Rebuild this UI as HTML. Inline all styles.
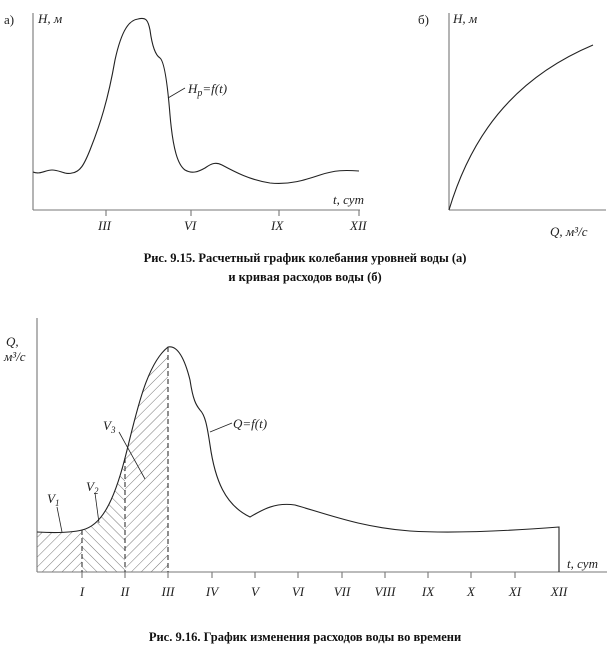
<!DOCTYPE html>
<html><head><meta charset="utf-8"><style>
body{margin:0;background:#fff}
svg{display:block}
.i{font-family:"Liberation Serif",serif;font-style:italic;font-size:13px;fill:#222}
.r{font-family:"Liberation Serif",serif;font-size:13px;fill:#222}
.c{font-family:"Liberation Serif",serif;font-weight:bold;font-size:12.5px;fill:#111}
</style></head><body>
<svg width="609" height="663" viewBox="0 0 609 663" xmlns="http://www.w3.org/2000/svg">
<defs>
<pattern id="pf" width="7" height="7" patternUnits="userSpaceOnUse" patternTransform="rotate(45)"><line x1="0" y1="0" x2="0" y2="7" stroke="#555" stroke-width="0.8"/></pattern>
<pattern id="pb" width="7" height="7" patternUnits="userSpaceOnUse" patternTransform="rotate(-45)"><line x1="0" y1="0" x2="0" y2="7" stroke="#555" stroke-width="0.8"/></pattern>
<clipPath id="area"><path d="M37,572 L37,532 C55,533 70,533 82,530 C100,526 113,505 125,458 C135,420 145,365 168,347 L168,572 Z"/></clipPath>
</defs>
<g fill="none" stroke="#222" stroke-width="1.1">
<line x1="33" y1="13" x2="33" y2="210" stroke="#777"/>
<line x1="33" y1="210" x2="360" y2="210" stroke="#777"/>
<line x1="106" y1="210" x2="106" y2="216" stroke="#777"/>
<line x1="191" y1="210" x2="191" y2="216" stroke="#777"/>
<line x1="279" y1="210" x2="279" y2="216" stroke="#777"/>
<line x1="359" y1="210" x2="359" y2="216" stroke="#777"/>
<path d="M33,172 C40,175 45,170 52,170 C60,170 65,175 72,173 C80,172 84,165 90,150 C100,125 108,100 115,60 C122,28 130,20 138,19 C146,17 148,20 150,30 C152,45 155,55 160,58 C165,62 168,90 170,115 C173,150 178,165 185,170 C192,174 198,172 205,168 C212,163 216,162 222,165 C235,172 250,180 270,183 C290,185 305,180 320,175 C335,170 345,170 359,171"/>
<line x1="168" y1="98" x2="185" y2="88" stroke-width="0.8"/>
<line x1="449" y1="13" x2="449" y2="210" stroke="#777"/>
<line x1="449" y1="210" x2="606" y2="210" stroke="#777"/>
<path d="M449,210 C470,140 510,80 593,45"/>
<g clip-path="url(#area)">
<rect x="37" y="330" width="45" height="242" fill="url(#pf)" stroke="none"/>
<rect x="82" y="330" width="43" height="242" fill="url(#pb)" stroke="none"/>
<rect x="125" y="330" width="43" height="242" fill="url(#pf)" stroke="none"/>
</g>
<line x1="37" y1="318" x2="37" y2="572" stroke="#777"/>
<line x1="37" y1="572" x2="607" y2="572" stroke="#777"/>
<g stroke="#777">
<line x1="82" y1="572" x2="82" y2="578"/><line x1="125" y1="572" x2="125" y2="578"/><line x1="168" y1="572" x2="168" y2="578"/>
<line x1="212" y1="572" x2="212" y2="578"/><line x1="255" y1="572" x2="255" y2="578"/><line x1="298" y1="572" x2="298" y2="578"/>
<line x1="342" y1="572" x2="342" y2="578"/><line x1="385" y1="572" x2="385" y2="578"/><line x1="428" y1="572" x2="428" y2="578"/>
<line x1="471" y1="572" x2="471" y2="578"/><line x1="515" y1="572" x2="515" y2="578"/>
</g>
<g stroke-dasharray="5,3" stroke="#333">
<line x1="82" y1="530" x2="82" y2="572"/><line x1="125" y1="458" x2="125" y2="572"/><line x1="168" y1="347" x2="168" y2="572"/>
</g>
<path d="M37,532 C55,533 70,533 82,530 C100,526 113,505 125,458 C135,420 145,365 168,347 C178,345 185,360 190,380 C193,400 196,405 200,410 C205,415 207,425 210,445 C215,480 225,505 250,517 C262,510 275,502 295,505 C330,515 360,527 410,531 C460,534 520,530 559,527 L559,572"/>
<g stroke-width="0.8">
<line x1="57" y1="507" x2="62" y2="532"/>
<line x1="95" y1="493" x2="99" y2="523"/>
<line x1="119" y1="432" x2="145" y2="479"/>
<line x1="232" y1="423" x2="210" y2="432"/>
</g>
</g>
<text class="r" x="4" y="24">а)</text>
<text class="i" x="38" y="23">H, м</text>
<text class="i" x="188" y="93">H<tspan font-size="10" dy="3">p</tspan><tspan dy="-3">=f(t)</tspan></text>
<text class="i" x="333" y="204">t, сут</text>
<text class="i" x="98" y="230">III</text>
<text class="i" x="184" y="230">VI</text>
<text class="i" x="271" y="230">IX</text>
<text class="i" x="350" y="230">XII</text>
<text class="r" x="418" y="24">б)</text>
<text class="i" x="453" y="23">H, м</text>
<text class="i" x="550" y="236">Q, м³/с</text>
<text class="c" x="305" y="262" text-anchor="middle">Рис. 9.15. Расчетный график колебания уровней воды (а)</text>
<text class="c" x="305" y="281" text-anchor="middle">и кривая расходов воды (б)</text>
<text class="i" x="6" y="346">Q,</text>
<text class="i" x="4" y="361">м³/с</text>
<text class="i" x="47" y="503">V<tspan font-size="9" dy="3">1</tspan></text>
<text class="i" x="86" y="491">V<tspan font-size="9" dy="3">2</tspan></text>
<text class="i" x="103" y="430">V<tspan font-size="9" dy="3">3</tspan></text>
<text class="i" x="233" y="428">Q=f(t)</text>
<text class="i" x="567" y="568">t, сут</text>
<g class="i" text-anchor="middle">
<text x="82" y="596">I</text><text x="125" y="596">II</text><text x="168" y="596">III</text><text x="212" y="596">IV</text>
<text x="255" y="596">V</text><text x="298" y="596">VI</text><text x="342" y="596">VII</text><text x="385" y="596">VIII</text>
<text x="428" y="596">IX</text><text x="471" y="596">X</text><text x="515" y="596">XI</text><text x="559" y="596">XII</text>
</g>
<text class="c" x="305" y="641" text-anchor="middle">Рис. 9.16. График изменения расходов воды во времени</text>
</svg>
</body></html>
